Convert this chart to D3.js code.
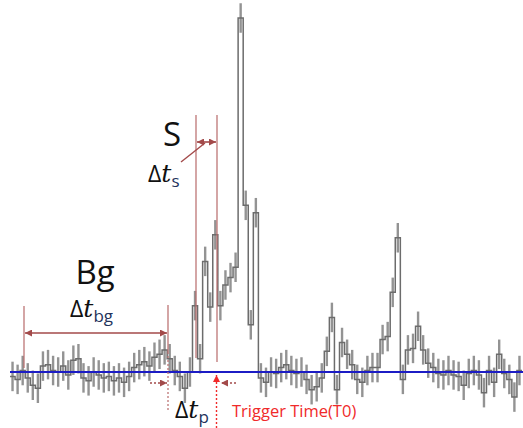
<!DOCTYPE html>
<html>
<head>
<meta charset="utf-8">
<script src="https://cdn.jsdelivr.net/npm/d3@7"></script>
<style>
  body { margin: 0; background: #fff; }
  svg { display: block; font-family: "Open Sans", "Noto Sans", sans-serif; }
</style>
</head>
<body>
<div id="chart"></div>
<script>
// counts per time bin
const counts = [
  97, 95, 101, 96, 91, 89, 104, 105, 101, 100,
  104, 98, 108, 109, 96, 94, 100, 98, 96, 97,
  94, 96, 93, 97, 103, 105, 107, 104, 110, 112,
  115, 109, 101, 97, 89, 100, 145, 109, 175, 144,
  193, 145, 159, 164, 171, 340, 213, 132, 208, 96,
  93, 100, 99, 103, 105, 101, 99, 100, 95, 88,
  90, 96, 114, 137, 88, 120, 112, 105, 95, 93,
  101, 103, 103, 122, 124, 154, 191, 95, 115, 116,
  131, 115, 106, 103, 99, 98, 101, 98, 97, 91,
  99, 101, 98, 86, 101, 93, 112, 99, 95, 83, 101
];
const errHalf = 10;       // error bar half length (counts)
const bgLevel = 100;      // fitted background level

const width = 523, height = 428;
const svg = d3.select("#chart").append("svg")
    .attr("width", width)
    .attr("height", height);

const x = d3.scaleLinear().domain([0, counts.length]).range([10, 522]);
const y = d3.scaleLinear().domain([0, 340]).range([519.5, 18]);

const dark = "#a34a4a";
const red = "#f02a2a";

// arrow markers
const defs = svg.append("defs");
function marker(id, color) {
    defs.append("marker")
        .attr("id", id)
        .attr("viewBox", "0 0 10 10")
        .attr("refX", 10).attr("refY", 5)
        .attr("markerWidth", 9).attr("markerHeight", 7)
        .attr("markerUnits", "userSpaceOnUse")
        .attr("orient", "auto-start-reverse")
        .append("path")
        .attr("d", "M0,0 L10,5 L0,10 z")
        .attr("fill", color);
}
marker("arrDark", dark);
marker("arrRed", red);

// error bars
svg.append("g").selectAll("line")
    .data(counts)
    .enter().append("line")
    .attr("x1", (d, i) => x(i + 0.5))
    .attr("x2", (d, i) => x(i + 0.5))
    .attr("y1", d => y(d + errHalf))
    .attr("y2", d => y(d - errHalf))
    .attr("stroke", "#939393")
    .attr("stroke-width", 2.4);

// histogram step line
const pts = counts.map((d, i) => [i, d]);
pts.push([counts.length, counts[counts.length - 1]]);
const step = d3.line()
    .x(d => x(d[0]))
    .y(d => y(d[1]))
    .curve(d3.curveStepAfter);
svg.append("path")
    .attr("d", step(pts))
    .attr("fill", "none")
    .attr("stroke", "#6c6c6c")
    .attr("stroke-width", 1.5);

// background level
svg.append("line")
    .attr("x1", 10).attr("x2", 523)
    .attr("y1", y(bgLevel)).attr("y2", y(bgLevel))
    .attr("stroke", "#1c1cc4")
    .attr("stroke-width", 2);

// ---- annotations ----
const ann = svg.append("g");

// Bg window
ann.append("line").attr("x1", 24).attr("x2", 24).attr("y1", 306).attr("y2", 368)
    .attr("stroke", "#b86a6a").attr("stroke-width", 1.2);
ann.append("line").attr("x1", 168).attr("x2", 168).attr("y1", 305).attr("y2", 352)
    .attr("stroke", "#b86a6a").attr("stroke-width", 1.2);
ann.append("line").attr("x1", 168).attr("x2", 168).attr("y1", 352).attr("y2", 412)
    .attr("stroke", "#b86a6a").attr("stroke-width", 1.2).attr("stroke-dasharray", "2,2");
ann.append("line").attr("x1", 25).attr("x2", 167).attr("y1", 333).attr("y2", 333)
    .attr("stroke", dark).attr("stroke-width", 1.6)
    .attr("marker-start", "url(#arrDark)").attr("marker-end", "url(#arrDark)");

// Δtp arrow
ann.append("line").attr("x1", 150).attr("x2", 167).attr("y1", 383).attr("y2", 383)
    .attr("stroke", dark).attr("stroke-width", 1.4).attr("stroke-dasharray", "2,2")
    .attr("marker-end", "url(#arrDark)");

// S window
ann.append("line").attr("x1", 196).attr("x2", 196).attr("y1", 115).attr("y2", 358)
    .attr("stroke", "#b86a6a").attr("stroke-width", 1.2);
ann.append("line").attr("x1", 217).attr("x2", 217).attr("y1", 115).attr("y2", 362)
    .attr("stroke", "#b86a6a").attr("stroke-width", 1.2);
ann.append("line").attr("x1", 197).attr("x2", 216).attr("y1", 142).attr("y2", 142)
    .attr("stroke", dark).attr("stroke-width", 1.6)
    .attr("marker-start", "url(#arrDark)").attr("marker-end", "url(#arrDark)");
ann.append("line").attr("x1", 181).attr("x2", 205).attr("y1", 162).attr("y2", 143)
    .attr("stroke", dark).attr("stroke-width", 1.4);

// trigger time T0
ann.append("line").attr("x1", 216.5).attr("x2", 216.5).attr("y1", 428).attr("y2", 375)
    .attr("stroke", red).attr("stroke-width", 1.4).attr("stroke-dasharray", "2,2")
    .attr("marker-end", "url(#arrRed)");
ann.append("line").attr("x1", 236).attr("x2", 221).attr("y1", 383).attr("y2", 383)
    .attr("stroke", dark).attr("stroke-width", 1.4).attr("stroke-dasharray", "2,2")
    .attr("marker-end", "url(#arrDark)");

// texts
ann.append("text").attr("x", 95).attr("y", 284).attr("text-anchor", "middle")
    .attr("font-size", 33).attr("fill", "#111").text("Bg");
ann.append("text").attr("x", 172).attr("y", 146).attr("text-anchor", "middle")
    .attr("font-size", 33).attr("fill", "#111").text("S");

function deltaT(xPos, yPos, sub) {
    const t = ann.append("text").attr("x", xPos).attr("y", yPos)
        .attr("font-size", 23).attr("fill", "#111");
    t.append("tspan").text("Δ");
    t.append("tspan").attr("font-style", "italic").attr("font-family", "DejaVu Serif")
        .attr("font-size", 25).text("t");
    t.append("tspan").attr("font-size", 17).attr("dy", 5).attr("fill", "#23335c").text(sub);
}
deltaT(70, 317, "bg");
deltaT(148, 182, "s");
deltaT(175, 418, "p");

ann.append("text").attr("x", 232).attr("y", 417)
    .attr("font-size", 16.5).attr("fill", red).text("Trigger Time(T0)");
</script>
</body>
</html>
